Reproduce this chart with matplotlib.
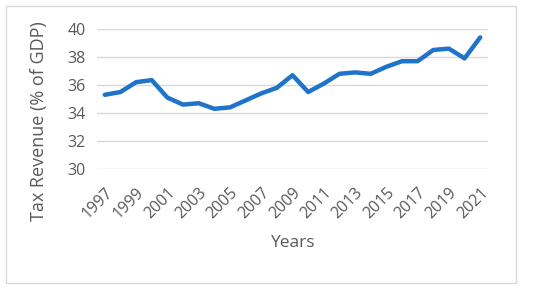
import matplotlib
matplotlib.use("Agg")
import matplotlib.pyplot as plt
from matplotlib.patches import Rectangle

years = list(range(1997, 2022))
tax_revenue = [35.3, 35.5, 36.2, 36.35, 35.1, 34.6, 34.7, 34.3, 34.4, 34.9,
               35.4, 35.8, 36.7, 35.5, 36.1, 36.8, 36.9, 36.8, 37.3, 37.7,
               37.7, 38.5, 38.6, 37.9, 39.4]
yticks = [30, 32, 34, 36, 38, 40]

plt.rcParams['font.family'] = ['Open Sans', 'DejaVu Sans']
gray = '#595959'

fig = plt.figure(figsize=(5.5, 2.91), dpi=100)
fig.patches.append(Rectangle((6/550, 1-283/291), 510/550, 277/291,
                             transform=fig.transFigure, fill=False,
                             edgecolor='#d9d9d9', linewidth=1))
ax = fig.add_axes([97/550, 1-169/291, 391/550, 140/291])
idx = list(range(len(years)))
ax.plot(idx, tax_revenue, color='#1f73c8', linewidth=3.2, solid_capstyle='round', zorder=3)
ax.set_xlim(-0.5, len(years) - 0.5)
ax.set_ylim(30, 40)
ax.set_yticks(yticks)
ax.set_yticklabels([str(v) for v in yticks], fontsize=11.5, color=gray)
ax.set_xticks(idx[::2])
ax.set_xticklabels([str(y) for y in years[::2]], rotation=45, ha='right',
                   rotation_mode='anchor', fontsize=11.5, color=gray)
ax.tick_params(axis='y', length=0, pad=8)
ax.tick_params(axis='x', length=0, pad=11)
ax.grid(axis='y', color='#d9d9d9', linewidth=1)
ax.set_axisbelow(True)
for s in ax.spines.values():
    s.set_visible(False)
ax.set_ylabel('Tax Revenue (% of GDP)', fontsize=13, color=gray)
ax.yaxis.set_label_coords(-0.125, 0.343)
ax.set_xlabel('Years', fontsize=12.5, color=gray)
ax.xaxis.set_label_coords(0.499, -0.471)
fig.savefig('out.png', dpi=100)
